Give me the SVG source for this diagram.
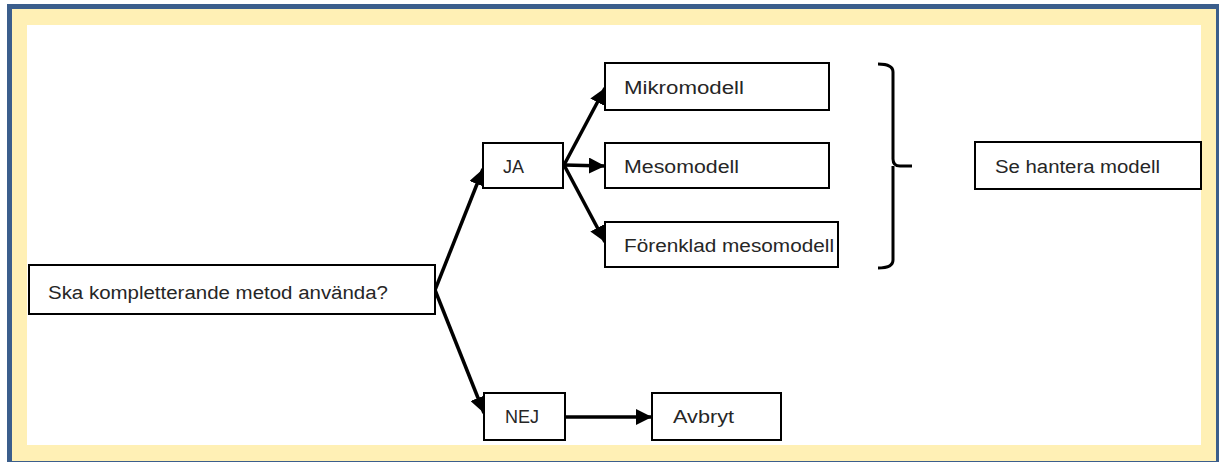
<svg xmlns="http://www.w3.org/2000/svg" width="1219" height="462" viewBox="0 0 1219 462">
<style>
.box{fill:#fff;stroke:#000;stroke-width:2}
.lbl{font-family:"Liberation Sans",Arial,sans-serif;font-size:18px;fill:#262626}
.con{stroke:#000;stroke-width:3.5;fill:none}
</style>
<defs>
<marker id="ah" viewBox="0 0 10 10" refX="10" refY="5" markerWidth="4.6" markerHeight="4.6" markerUnits="strokeWidth" orient="auto">
<path d="M0,0 L10,5 L0,10 Z" fill="#000"/>
</marker>
</defs>
<rect x="0" y="0" width="1219" height="462" fill="#fff"/>
<rect x="7" y="4" width="1215" height="462" fill="#3b5e8c"/>
<rect x="12" y="9" width="1204" height="452" fill="#fff0b5"/>
<rect x="27" y="25" width="1174" height="420" fill="#fff"/>
<g id="connectors">
<line class="con" x1="435" y1="290" x2="483" y2="169" marker-end="url(#ah)"/>
<line class="con" x1="435" y1="290" x2="484" y2="413" marker-end="url(#ah)"/>
<line class="con" x1="564" y1="165" x2="605" y2="88" marker-end="url(#ah)"/>
<line class="con" x1="564" y1="165" x2="605" y2="166" marker-end="url(#ah)"/>
<line class="con" x1="564" y1="165" x2="605" y2="242" marker-end="url(#ah)"/>
<line class="con" x1="565" y1="417" x2="652" y2="417" marker-end="url(#ah)"/>
<path d="M878,64 Q893,64 893,72 L893,159 Q893,166 900,166 L912,166 M893,166 Q893,173 893,176 L893,260 Q893,268 878,268" stroke="#000" stroke-width="3" fill="none"/>
</g>
<g id="n-main"><rect class="box" x="29" y="265" width="406" height="49"/><text class="lbl" x="48" y="299" textLength="340" lengthAdjust="spacingAndGlyphs">Ska kompletterande metod använda?</text></g>
<g id="n-ja"><rect class="box" x="483" y="143" width="80" height="45"/><text class="lbl" x="503" y="173">JA</text></g>
<g id="n-mikro"><rect class="box" x="605" y="63" width="224" height="47"/><text class="lbl" x="624" y="94" textLength="120" lengthAdjust="spacingAndGlyphs">Mikromodell</text></g>
<g id="n-meso"><rect class="box" x="605" y="143" width="224" height="45"/><text class="lbl" x="624" y="173" textLength="115" lengthAdjust="spacingAndGlyphs">Mesomodell</text></g>
<g id="n-forenklad"><rect class="box" x="605" y="222" width="233" height="45"/><text class="lbl" x="624" y="252" textLength="210" lengthAdjust="spacingAndGlyphs">Förenklad mesomodell</text></g>
<g id="n-nej"><rect class="box" x="484" y="393" width="81" height="47"/><text class="lbl" x="505" y="423">NEJ</text></g>
<g id="n-avbryt"><rect class="box" x="652" y="393" width="129" height="47"/><text class="lbl" x="673" y="423" textLength="61" lengthAdjust="spacingAndGlyphs">Avbryt</text></g>
<g id="n-se"><rect class="box" x="975" y="142" width="226" height="47"/><text class="lbl" x="995" y="173" textLength="165" lengthAdjust="spacingAndGlyphs">Se hantera modell</text></g>
</svg>
